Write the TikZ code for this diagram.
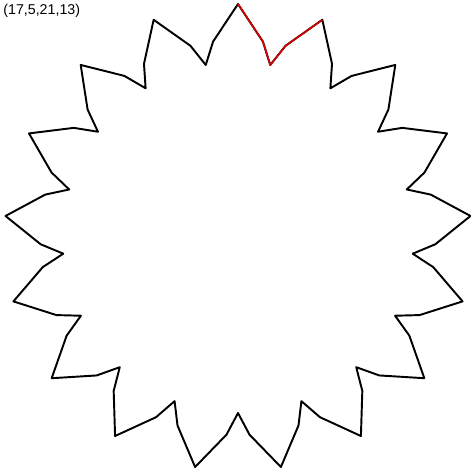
\documentclass[tikz,border=0pt]{standalone}
\usepackage{fontspec}
\setmainfont{Liberation Sans}
\usepackage{tikz}
\definecolor{pathred}{RGB}{220,0,0}

\begin{document}
\begin{tikzpicture}[x=0.02cm,y=0.02cm]
	\useasboundingbox (0,0) rectangle (471,471);

	% >>> parameter label
	\node[anchor=north west,inner sep=0pt,font=\fontsize{8.1}{9}\selectfont] (params) at (3,467) {(17,5,21,13)};
	% <<< parameter label

	\begin{scope}[shift={(238,233.5)},line join=round]
		% >>> star curve
		\draw[black,line width=1.1pt] (90:233.5)
			\foreach \k in {0,...,16} {
				-- ({90-\k*360/17-7.25}:197.5)
				-- ({90-\k*360/17-180/17}:175.5)
				-- ({90-\k*360/17-360/17+7.25}:197.5)
				-- ({90-(\k+1)*360/17}:233.5)
			} -- cycle;
		% <<< star curve

		% >>> first period
		\draw[pathred,line width=0.9pt] (90:233.5) -- ({90-7.25}:197.5) -- ({90-180/17}:175.5)
			-- ({90-360/17+7.25}:197.5) -- ({90-360/17}:233.5);
		% <<< first period
	\end{scope}
\end{tikzpicture}
\end{document}
